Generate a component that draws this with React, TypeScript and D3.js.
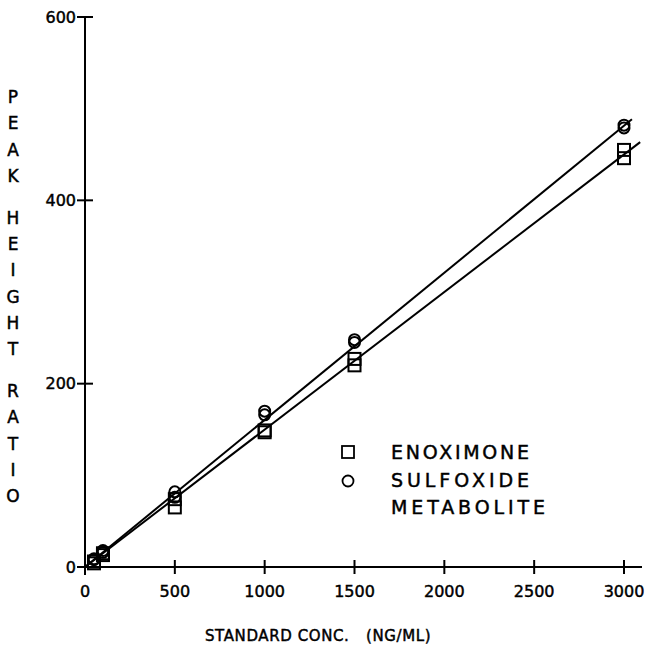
import React from "react";
import * as d3 from "d3";

const xTicks = [0, 500, 1000, 1500, 2000, 2500, 3000];
const yTicks = [0, 200, 400, 600];

const enoxConc = [50, 50, 100, 100, 500, 500, 1000, 1000, 1500, 1500, 3000, 3000];
const enoxRatio = [4, 6, 13, 15, 65, 74, 147, 149, 220, 227, 446, 455];
const sulfConc = [50, 50, 100, 100, 500, 500, 1000, 1000, 1500, 1500, 3000, 3000];
const sulfRatio = [8, 9, 16, 18, 76, 82, 166, 170, 245, 248, 479, 482];

const fitNames = ["enox", "sulf"];
const fitSlopes = [0.15, 0.1605];
const fitIntercepts = [0, 0];
const fitEnds = [3090, 3044];

const yLabelWords = ["PEAK", "HEIGHT", "RATIO"];
const legendLabels = ["ENOXIMONE", "SULFOXIDE", "METABOLITE"];
const xTitleParts = ["STANDARD CONC.", "(NG/ML)"];

const W = 646;
const H = 651;
const FONT = "'DejaVu Sans', sans-serif";
const TS = { stroke: "#000", strokeWidth: 0.45 };

export default function App() {
  const x = d3.scaleLinear().domain([0, 3000]).range([85, 624]);
  const y = d3.scaleLinear().domain([0, 600]).range([567, 17]);
  const line = d3
    .line<number>()
    .x((d) => d[0])
    .y((d) => d[1]);

  const yLetters: { ch: string; y: number }[] = [];
  let cy = 97;
  yLabelWords.forEach((w) => {
    w.split("").forEach((ch) => {
      yLetters.push({ ch, y: cy });
      cy += 26.2;
    });
    cy += 16;
  });

  const sq = 12;
  return (
    <svg
      width={W}
      height={H}
      style={{ position: "absolute", left: 0, top: 0, background: "#fff" }}
      fontFamily={FONT}
    >
      <rect width={W} height={H} fill="#fff" />
      {/* axes */}
      <line x1={x(0)} x2={x(0)} y1={y(600)} y2={575} stroke="#000" strokeWidth={2} />
      <line x1={77} x2={642} y1={y(0)} y2={y(0)} stroke="#000" strokeWidth={2} />
      {yTicks.map((t) => (
        <g key={"yt" + t}>
          <line x1={x(0) - 8} x2={x(0) + 8} y1={y(t)} y2={y(t)} stroke="#000" strokeWidth={2} />
          <text
            x={x(0) - 9}
            y={y(t)}
            dy="0.36em"
            textAnchor="end"
            fontSize={16}
            fill="#000"
            {...TS}
          >
            {t}
          </text>
        </g>
      ))}
      {xTicks.map((t) => (
        <g key={"xt" + t}>
          <line x1={x(t)} x2={x(t)} y1={y(0) - 7} y2={y(0) + 7} stroke="#000" strokeWidth={2} />
          <text x={x(t)} y={597} textAnchor="middle" fontSize={16} fill="#000" {...TS}>
            {t}
          </text>
        </g>
      ))}
      {/* fit lines */}
      {fitNames.map((n, i) => (
        <path
          key={n}
          d={
            line([
              [x(0), y(fitIntercepts[i])],
              [x(fitEnds[i]), y(fitIntercepts[i] + fitSlopes[i] * fitEnds[i])],
            ] as any) || ""
          }
          stroke="#000"
          strokeWidth={2}
          fill="none"
        />
      ))}
      {/* points */}
      {enoxConc.map((c, i) => (
        <rect
          key={"e" + i}
          x={x(c) - sq / 2}
          y={y(enoxRatio[i]) - sq / 2}
          width={sq}
          height={sq}
          fill="none"
          stroke="#000"
          strokeWidth={2}
        />
      ))}
      {sulfConc.map((c, i) => (
        <circle
          key={"s" + i}
          cx={x(c)}
          cy={y(sulfRatio[i])}
          r={5.5}
          fill="none"
          stroke="#000"
          strokeWidth={2}
        />
      ))}
      {/* legend */}
      <rect x={342} y={446} width={12} height={12} fill="none" stroke="#000" strokeWidth={1.8} />
      <circle cx={348} cy={481} r={5.5} fill="none" stroke="#000" strokeWidth={1.8} />
      {legendLabels.map((l, i) => (
        <text
          key={l}
          x={391}
          y={459 + i * 27.5}
          fontSize={19}
          fill="#000"
          {...TS}
          textLength={l.length === 10 ? 154 : 138}
          lengthAdjust="spacing"
        >
          {l}
        </text>
      ))}
      {/* y label */}
      {yLetters.map((d, i) => (
        <text
          key={"yl" + i}
          x={13}
          y={d.y}
          dy="0.36em"
          textAnchor="middle"
          fontSize={17}
          fill="#000"
          {...TS}
        >
          {d.ch}
        </text>
      ))}
      {/* x label */}
      <text x={205} y={641} fontSize={15} fill="#000" {...TS} letterSpacing={0.6}>
        {xTitleParts[0]}
      </text>
      <text x={366} y={641} fontSize={15} fill="#000" {...TS} letterSpacing={0.6}>
        {xTitleParts[1]}
      </text>
    </svg>
  );
}
